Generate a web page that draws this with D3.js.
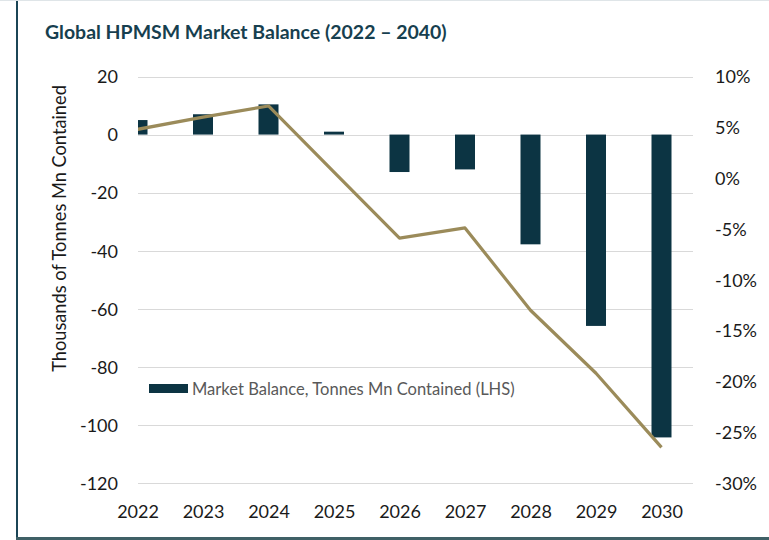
<!DOCTYPE html>
<html>
<head>
<meta charset="utf-8">
<script src="https://cdn.jsdelivr.net/npm/d3@7"></script>
<style>
  html, body { margin: 0; padding: 0; background: #fff; }
  svg { display: block; font-family: Lato, "Liberation Sans", sans-serif; }
</style>
</head>
<body>
<svg id="chart" width="769" height="540"></svg>
<script>
// ---- data ----
const years = ["2022","2023","2024","2025","2026","2027","2028","2029","2030"];
const balance = [5.0, 7.0, 10.4, 1.0, -12.9, -12.0, -37.8, -65.9, -104.3]; // thousand tonnes Mn (LHS)
const balancePct = [4.8, 6.0, 7.1, 0.6, -5.9, -4.9, -13.0, -19.2, -26.5]; // % (RHS)
const leftTicks = [20, 0, -20, -40, -60, -80, -100, -120];
const rightTicks = [10, 5, 0, -5, -10, -15, -20, -25, -30];
const titleText = "Global HPMSM Market Balance (2022 \u2013 2040)";
const yTitle = "Thousands of Tonnes Mn Contained";
const legendText = "Market Balance, Tonnes Mn Contained (LHS)";

// ---- layout ----
const svg = d3.select("#chart");
const plot = { left: 138, right: 693, top: 76.5, bottom: 483 };
const barColor = "#0c3443";
const lineColor = "#9b8b5a";
const gridColor = "#d9d9d9";
const textColor = "#1a1a1a";

const x = d3.scalePoint().domain(years).range([137.5, 137.5 + 65.5 * (years.length - 1)]);
const y = d3.scaleLinear().domain([-120, 20]).range([plot.bottom, plot.top]);
const y2 = d3.scaleLinear().domain([-30, 10]).range([plot.bottom, plot.top]);
const barW = 20;

// frame
svg.append("line").attr("x1", 17).attr("x2", 17).attr("y1", 0).attr("y2", 540)
  .attr("stroke", "#1b4556").attr("stroke-width", 2);
svg.append("line").attr("x1", 16).attr("x2", 769).attr("y1", 538.5).attr("y2", 538.5)
  .attr("stroke", "#3f6066").attr("stroke-width", 3);
svg.append("line").attr("x1", 0).attr("x2", 769).attr("y1", 0.5).attr("y2", 0.5)
  .attr("stroke", "#dfe5e8").attr("stroke-width", 1);

// title
const title = svg.append("text").attr("x", 45).attr("y", 39)
  .attr("fill", "#173f4f").attr("font-weight", "bold").attr("font-size", 19)
  .text(titleText);
(function fit(el, target, size) {
  const w = el.node().getComputedTextLength();
  el.attr("font-size", size * target / w);
})(title, 402, 19);

// gridlines
svg.append("g").selectAll("line").data(leftTicks).join("line")
  .attr("x1", plot.left).attr("x2", plot.right)
  .attr("y1", d => Math.round(y(d)) + 0.5).attr("y2", d => Math.round(y(d)) + 0.5)
  .attr("stroke", gridColor).attr("stroke-width", 1);

// left axis
const leftAxis = d3.axisLeft(y).tickValues(leftTicks).tickSize(0).tickPadding(0).tickFormat(d3.format("d"));
const gl = svg.append("g").attr("transform", "translate(118,0)").call(leftAxis);
gl.select(".domain").remove();
gl.selectAll("text").attr("font-size", 18).attr("fill", textColor)
  .attr("font-family", "Lato, sans-serif").attr("dy", "0.35em").text(d => d < 0 ? "-" + Math.abs(d) : d);

// right axis
const rightAxis = d3.axisRight(y2).tickValues(rightTicks).tickSize(0).tickPadding(0).tickFormat(d => (d < 0 ? "-" + Math.abs(d) : d) + "%");
const gr = svg.append("g").attr("transform", "translate(715,0)").call(rightAxis);
gr.select(".domain").remove();
gr.selectAll("text").attr("font-size", 18).attr("fill", textColor)
  .attr("font-family", "Lato, sans-serif").attr("dy", "0.35em");

// bottom axis
const bottomAxis = d3.axisBottom(x).tickSize(0).tickPadding(0);
const gb = svg.append("g").attr("transform", "translate(0,518)").call(bottomAxis);
gb.select(".domain").remove();
gb.selectAll("text").attr("font-size", 18).attr("fill", textColor)
  .attr("font-family", "Lato, sans-serif").attr("dy", 0);

// y title
const yt = svg.append("text")
  .attr("transform", "translate(66,228.5) rotate(-90)")
  .attr("text-anchor", "middle").attr("font-size", 16).attr("fill", textColor)
  .text(yTitle);
(function fit(el, target, size) {
  const w = el.node().getComputedTextLength();
  el.attr("font-size", size * target / w);
})(yt, 287, 16);

// clip
svg.append("clipPath").attr("id", "plotclip").append("rect")
  .attr("x", plot.left).attr("y", 0).attr("width", plot.right - plot.left).attr("height", 540);

// bars
svg.append("g").attr("clip-path", "url(#plotclip)").selectAll("rect")
  .data(years.map((yr, i) => ({ yr, v: balance[i] }))).join("rect")
  .attr("x", d => x(d.yr) - barW / 2).attr("width", barW)
  .attr("y", d => y(Math.max(0, d.v))).attr("height", d => Math.abs(y(d.v) - y(0)))
  .attr("fill", barColor);

// line
const lineGen = d3.line().x((d, i) => x(years[i])).y(d => y2(d));
svg.append("path").datum(balancePct).attr("clip-path", "url(#plotclip)")
  .attr("d", lineGen).attr("fill", "none").attr("stroke", lineColor)
  .attr("stroke-width", 3.2).attr("stroke-linejoin", "round");

// legend
svg.append("rect").attr("x", 149).attr("y", 384).attr("width", 39).attr("height", 9).attr("fill", barColor);
const lt = svg.append("text").attr("x", 192).attr("y", 389).attr("dy", "0.35em")
  .attr("font-size", 15).attr("fill", "#595959").text(legendText);
(function fit(el, target, size) {
  const w = el.node().getComputedTextLength();
  el.attr("font-size", size * target / w);
})(lt, 323, 15);
</script>
</body>
</html>
